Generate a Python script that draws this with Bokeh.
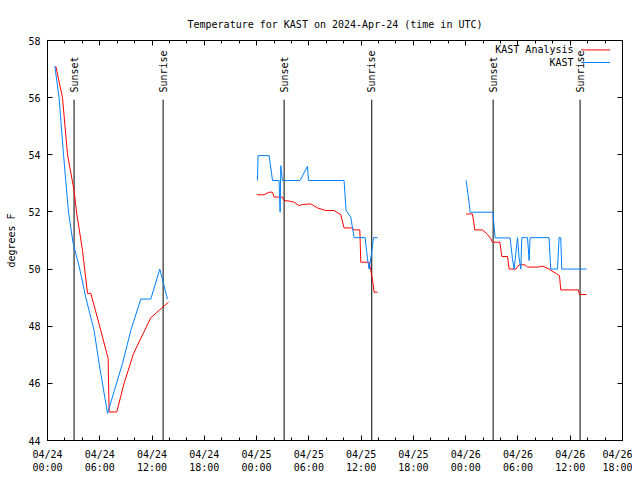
import math
from bokeh.plotting import figure
from bokeh.models import LinearAxis, FixedTicker, Range1d
from bokeh.core.properties import value
from bokeh.embed import file_html
from bokeh.resources import INLINE

nan = float("nan")

# ---------------- data (hours since 04/24 00:00 UTC, degrees F) ----------------
analysis_hours = [0.95, 1.72, 2.30, 3.05, 3.33, 4.02, 4.59, 4.97, 6.12, 6.96, 7.07, 7.95,
                  8.79, 9.87, 11.86, 13.89, nan,
                  24.02, 24.86, 25.44, 25.83, 26.01, 26.97, 27.16, 27.93, 28.31, 28.88,
                  29.27, 30.22, 30.99, 31.94, 32.90, 33.67, 34.04, 35.01, 35.12, 35.85,
                  35.96, 36.91, 37.11, 37.37, 37.49, 37.88, nan,
                  48.05, 48.78, 49.05, 49.93, 50.51, 50.89, 51.08, 51.92, 52.15, 52.80,
                  52.99, 53.76, 54.13, 54.79, 55.10, 56.31, 56.82, 57.57, 58.46, 58.77,
                  58.91, 60.94, 61.05, 61.87]
analysis_temps = [57.1, 56.0, 54.0, 52.75, 52.0, 50.65, 49.15, 49.15, 47.85, 46.87, 45.0, 45.0,
                  46.0, 47.04, 48.3, 48.84, nan,
                  52.6, 52.6, 52.69, 52.69, 52.52, 52.52, 52.4, 52.37, 52.34, 52.22,
                  52.26, 52.28, 52.14, 52.05, 52.05, 51.9, 51.44, 51.44, 51.37, 51.37,
                  50.24, 50.24, 49.95, 49.5, 49.19, 49.19, nan,
                  51.93, 51.93, 51.37, 51.37, 51.21, 51.06, 50.94, 50.94, 50.44, 50.44,
                  50.0, 50.0, 50.15, 50.15, 50.07, 50.07, 50.1, 50.0, 49.83, 49.77,
                  49.27, 49.27, 49.11, 49.11]

obs_hours = [0.84, 1.33, 1.84, 2.41, 2.94, 3.63, 4.40, 5.35, 5.92, 6.89, 8.61, 9.56,
             10.71, 11.86, 12.89, 13.77, nan,
             24.10, 24.17, 25.44, 25.83, 26.58, 26.70, 26.78, 26.97, 28.99, 29.84,
             29.96, 34.04, 34.27, 34.81, 35.19, 36.46, 36.73, 36.91, 37.19, 37.42,
             37.88, nan,
             48.05, 48.39, 48.51, 51.15, 51.19, 51.38, 53.10, 53.37, 53.56, 53.95,
             54.13, 54.33, 54.44, 55.10, 55.28, 55.39, 57.57, 57.76, 58.54, 58.72,
             58.91, 59.03, 61.87]
obs_temps = [57.1, 56.0, 54.0, 52.0, 50.9, 50.1, 49.0, 47.85, 46.7, 44.95, 46.7, 47.85,
             48.95, 48.95, 50.0, 48.95, nan,
             53.1, 53.97, 53.97, 53.1, 53.1, 51.99, 53.62, 53.1, 53.1, 53.6,
             53.1, 53.1, 52.05, 51.82, 51.1, 51.1, 50.36, 50.0, 50.54, 51.1,
             51.1, nan,
             53.1, 52.34, 51.99, 51.99, 51.75, 51.09, 51.09, 50.36, 50.0, 51.1,
             50.4, 50.0, 51.1, 51.1, 50.3, 51.1, 51.1, 50.0, 50.0, 51.1,
             51.1, 50.0, 50.0]

sun_hours = [3.05, 13.27, 27.16, 37.22, 51.15, 61.13]
sun_labels = ["Sunset", "Sunrise", "Sunset", "Sunrise", "Sunset", "Sunrise"]

series_names = ["KAST Analysis", "KAST"]
series_colors = ["#ff0000", "#0080ff"]

x_ticks = [0, 6, 12, 18, 24, 30, 36, 42, 48, 54, 60, 66]
x_tick_labels = ["04/24\n00:00", "04/24\n06:00", "04/24\n12:00", "04/24\n18:00",
                 "04/25\n00:00", "04/25\n06:00", "04/25\n12:00", "04/25\n18:00",
                 "04/26\n00:00", "04/26\n06:00", "04/26\n12:00", "04/26\n18:00"]
x_minor_ticks = list(range(0, 67, 2))
y_ticks = [44, 46, 48, 50, 52, 54, 56, 58]

FONT = "DejaVu Sans Mono"
FS = "10px"

# ---------------- figure ----------------
p = figure(width=632, height=476, x_range=Range1d(0, 66), y_range=Range1d(44, 58),
           output_backend="svg", toolbar_location=None,
           x_axis_type=None, y_axis_type=None,
           min_border_left=47, min_border_right=10, min_border_top=40, min_border_bottom=36)
p.background_fill_color = "white"
p.border_fill_color = "white"
p.outline_line_color = "black"
p.xgrid.visible = False
p.ygrid.visible = False

p.title.text = "Temperature for KAST on 2024-Apr-24 (time in UTC)"
p.title.align = "center"
p.title.text_font = FONT
p.title.text_font_size = FS
p.title.text_font_style = "normal"
p.title.text_color = "black"
p.title.standoff = 21


def style_axis(ax, show_labels):
    ax.axis_line_color = "black"
    ax.major_tick_line_color = "black"
    ax.minor_tick_line_color = "black"
    ax.major_tick_out = 0
    ax.minor_tick_out = 0
    ax.major_label_text_font = FONT
    ax.major_label_text_font_size = FS
    ax.major_label_text_color = "black"
    if not show_labels:
        ax.major_label_standoff = 0


xticker = FixedTicker(ticks=x_ticks, minor_ticks=x_minor_ticks)
yticker = FixedTicker(ticks=y_ticks, minor_ticks=[])

xb = LinearAxis(ticker=xticker,
                major_label_overrides={t: l for t, l in zip(x_ticks, x_tick_labels)})
style_axis(xb, True)
xb.major_tick_in = 5
xb.minor_tick_in = 3
xb.major_label_standoff = 8
p.add_layout(xb, "below")

xt = LinearAxis(ticker=xticker, major_label_overrides={t: "" for t in x_ticks})
style_axis(xt, False)
xt.major_tick_in = 5
xt.minor_tick_in = 3
p.add_layout(xt, "above")

yl = LinearAxis(ticker=yticker, axis_label="degrees F")
style_axis(yl, True)
yl.major_tick_in = 5
yl.minor_tick_in = 0
yl.major_label_standoff = 7
yl.axis_label_text_font = FONT
yl.axis_label_text_font_size = FS
yl.axis_label_text_font_style = "normal"
yl.axis_label_text_color = "black"
yl.axis_label_standoff = 8
p.add_layout(yl, "left")

yr = LinearAxis(ticker=yticker, major_label_overrides={t: "" for t in y_ticks})
style_axis(yr, False)
yr.major_tick_in = 5
yr.minor_tick_in = 0
p.add_layout(yr, "right")

# sunset / sunrise markers
p.segment(x0=sun_hours, y0=[44] * len(sun_hours), x1=sun_hours, y1=[55.93] * len(sun_hours),
          line_color="black", line_width=1)
p.text(x=sun_hours, y=[56.18] * len(sun_hours), text=sun_labels, angle=math.pi / 2,
       text_align="left", text_baseline="middle", text_font=value(FONT),
       text_font_size=FS, text_color="black")

# series
p.line(analysis_hours, analysis_temps, line_color=series_colors[0], line_width=1)
p.line(obs_hours, obs_temps, line_color=series_colors[1], line_width=1)

# key (gnuplot style: label then line sample)
key_text_x = 60.38
key_line_x0, key_line_x1 = 61.25, 64.58
key_rows_y = [57.67, 57.23]
p.text(x=[key_text_x] * 2, y=key_rows_y, text=series_names, text_align="right",
       text_baseline="middle", text_font=value(FONT), text_font_size=FS, text_color="black")
p.segment(x0=[key_line_x0] * 2, y0=key_rows_y, x1=[key_line_x1] * 2, y1=key_rows_y,
          line_color=series_colors, line_width=1)

open("out.html", "w").write(file_html(p, INLINE))
